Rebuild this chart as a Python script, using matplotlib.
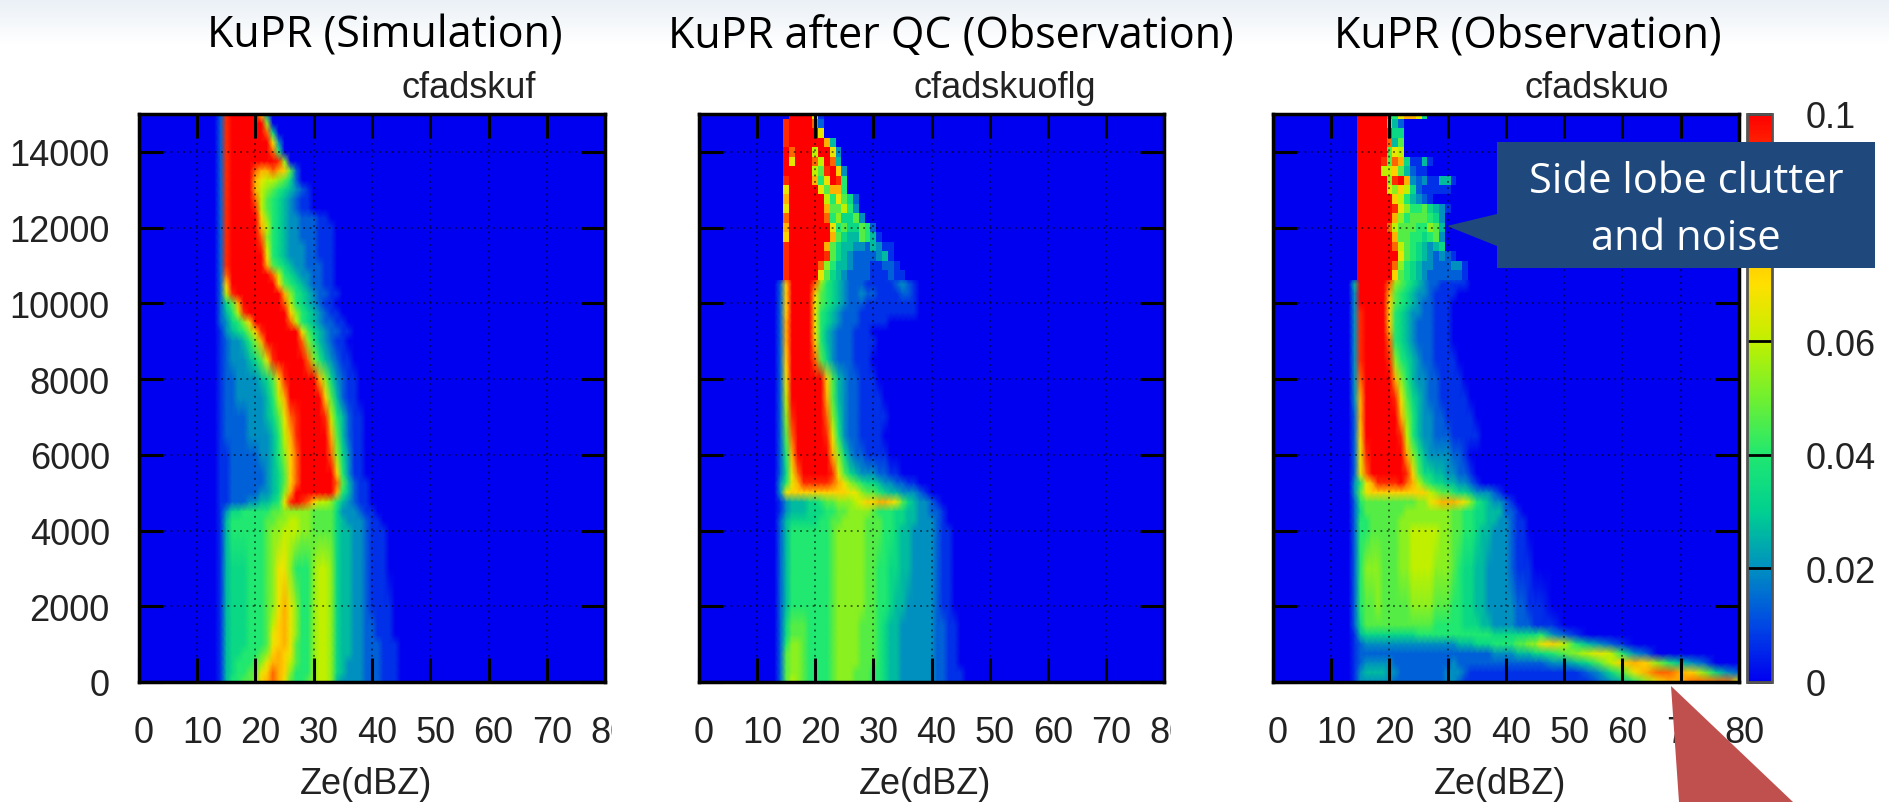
import numpy as np
import matplotlib
matplotlib.use("Agg")
import matplotlib.pyplot as plt
from matplotlib.colors import LinearSegmentedColormap, Normalize
from matplotlib.cm import ScalarMappable
from matplotlib.patches import Polygon, Rectangle
from matplotlib.transforms import ScaledTranslation

# altitude of each row, top to bottom
alt = [15000, 14750, 14500, 14250, 14000, 13750, 13500, 13250, 13000, 12750, 12500, 12250,
       12000, 11750, 11500, 11250, 11000, 10750, 10500, 10250, 10000, 9750, 9500, 9250, 9000,
       8500, 8000, 7500, 7000, 6500, 6000, 5500, 5250, 5000, 4750, 4500, 4250, 4000,
       3000, 2000, 1500, 1250, 1000, 750, 500, 250, 0]

# each digit is one cell, hex level, F = 0.1
# groups: Ze 13-19 | 20-29 | 30-39 | 40-45 | 46-80 every 2 dBZ
cfadskuf = [
    "02EFFFF FB3", "02EFFFF FF8", "02EFFFF FFD5", "02EFFFF FFFA3", "02EFFFF FFFD6",
    "02EFFFF FFFFE8", "02EFFFF DCCDCB72", "02EFFFF CA998752", "02EFFFF C987654321",
    "02EFFFF D976543211", "02EFFFF E976543211", "02EFFFF FB86543322 211",
    "02EFFFF FC96543322 2111", "02EFFFF FD86543322 2111", "02EFFFF FE96543332 2111",
    "02EFFFF FFA6543332 2111", "02EFFFF FFC7654332 2211", "02DFFFF FFFD965433 2211",
    "02BFFFF FFFFB76543 2211", "029EFFF FFFFFC8654 32211", "0257CFF FFFFFD9654 3211",
    "02469EF FFFFFFB865 43211", "023568B FFFFFFD965 432211", "0134568 BEFFFFFFA7 5432211",
    "0123346 8CFFFFFFD8 643211", "0123334 57AEFFFFFD 8643211", "0122333 3457BEFFFF FC853211",
    "0122333 33469CFFFF FFB74211", "0122223 33457ADEFF FFE964211", "0122223 333469CEFF FFFC74211",
    "0112222 233468BDFF FFFD85311", "0112222 223457BDFF FFFFB6311", "0112222 223457BDFF FFFFD74211",
    "0112222 233458CFFF FFFFC64211", "0112223 34456AEFED B998643211",
    "0135566 6667788888 7777533321 1", "0146666 6677889988 7777543332 11",
    "0146666 6678899988 7777544332 111", "0145556 6678AA8666 8998544332 111",
    "0145556 6678ACA866 8998544332 1111", "0145556 6679BCA866 8998544332 2111",
    "0145556 667ABCA866 8998544332 2111", "0145556 667ABCA766 8998544332 22111",
    "0145566 678BCBA766 8998544332 22111", "0145666 78ACCB9766 8998543332 22111",
    "0145667 7ABDCB8666 8998543332 22111", "0146677 8BCDCA7667 8998433332 22111",
]

cfadskuoflg = [
    "000FFFF A1", "00EFFFF D2", "00EFFFF FA", "00EFFFF FFC4", "00FDFFF 9FFA3",
    "00FAFFF D9FD4", "00FFFFF 97EFB3", "00EFFFF C6AFE6", "00AFFFF FA7CC6",
    "00CFFFF FF96A752", "00AFFFF FFC77963", "00DFFFF FFD685573", "00CFFFF FFFA675576 2",
    "00BFFFF FFFC754476 41", "00EFFFF FFC7544332 4311", "00EFFFF FFE7543222 2341",
    "00EFFFF FD86443222 11221", "00EFFFF FA75432222 111211",
    "02BFFFF D865432221 11112321", "02BFFFF B765432232 21111221", "02BFFFF A765432221 11111111",
    "02BFFFF A654322211 11111111", "02CFFFF A654322211 111", "02CFFFF A643222111",
    "02CFFFF B643222111 1", "02BFFFF D753222111", "02AFFFF FFB7432211 1",
    "029FFFF FFC7432211 11", "028EFFF FFD8532211 111", "027DFFF FFEA632211 11",
    "026CFFF FFFC853221 111", "025ADFF FFFEA75433 32211", "036ACEE EEEDCA8765 54332211",
    "03ABBBB BBBBBBAA87 7654433321", "0134445 56778889AB BCCBA75433 21",
    "0134445 5566778888 7666554433 221", "0245555 5667788887 7766554433 321",
    "0246666 6667888887 7766544333 3211", "0246666 6667888887 7665544333 3211",
    "0246666 6667888887 7665443333 3211", "0257776 6667888877 7654433333 32211",
    "0257776 6667888877 7654433333 32211", "0268876 6667888877 7654433333 32211",
    "0278876 6667888877 7654433333 32211", "0278876 6667888877 7654433333 32211",
    "0278876 6667888777 6654433333 322111", "0279876 6667888777 6654433333 322111",
]

cfadskuo = [
    "00FFFFF D6ACCA5", "00FFFFF C42", "00FFFFF E55", "00FFFFF D47", "00FFFFF 7A9",
    "00FFFFE 7DC51141", "00FFFF9 9B74211", "00FFFFF 8EFC323114 41", "00FFFFF A8B9521111 1",
    "00FFFFF FB964321", "00FFFFF FEA8667543 1", "00FFFFF FC86777653", "00FFFFF D977766874",
    "00FFFFF FC77665673", "00FFFFF FD97654345", "00FFFFF FFA7654323 21", "00FFFFF FD86543322 2331",
    "00FFFFF FB76543222 2221", "04FFFFF D876543221 1111", "03FFFFF C765433211 11",
    "03FFFFF B765432211 1", "03EFFFF B654332211 1", "03EFFFF B654322211 1",
    "03EFFFF C654322211 1", "03EFFFF D654322211 1", "03EFFFF E865432211 11",
    "03DFFFF FC86433221 111", "03CFFFF FEA7543221 1111", "02CFFFF FFC8643322 11111",
    "02BFFFF FFE9643322 211111", "02AEFFF FFFC864333 3221", "02ADFFF FFFEB75544 33221",
    "036ACEE EEFDC97655 443321", "037ABBB BBBBBBB987 7655433321", "0267777 7777788ABC CCBA865433 21",
    "0257777 7778888888 8776655444 221", "0266777 7788888888 8776655443 3211",
    "0266777 7788999998 8776654433 3211", "0268887 7788999988 8765544333 32111",
    "0267787 7777888877 7665544333 332211 1", "0257777 7777777766 6665554433 332221 11",
    "0145555 5555566666 6666666655 555555 6321", "0123333 3333333333 3344455566 667788 AB964321",
    "0122222 2222222222 2222222233 334445 56789A9632", "0123333 3222222222 2322222222 222222 2334579BCB86432",
    "0134444 3322222222 3332111111 111111 11112357ACDDCB8532",
    "0133333 3222222222 3321111111 111111 1111123468ACCDDDDA",
]

panel_names = ["cfadskuf", "cfadskuoflg", "cfadskuo"]
panel_titles = ["KuPR (Simulation)", "KuPR after QC (Observation)", "KuPR (Observation)"]
xticks = [0, 10, 20, 30, 40, 50, 60, 70, 80]
yticks = [0, 2000, 4000, 6000, 8000, 10000, 12000, 14000]
cbticks = [0, 0.02, 0.04, 0.06, 0.08, 0.1]
cblabels = ["0", "0.02", "0.04", "0.06", "0.08", "0.1"]

ze = list(range(13, 46)) + list(range(46, 81, 2))
group_len = [7, 10, 10, 6, 18]


def to_grid(rows):
    out = []
    for r in rows:
        parts = r.split(" ")
        parts = parts + [""] * (5 - len(parts))
        s = "".join(p.ljust(n, "0")[:n] for p, n in zip(parts, group_len))
        out.append([int(c, 16) * 0.1 / 15 for c in s])
    return np.array(out)


W, H = 1890, 803
fig = plt.figure(figsize=(W / 100, H / 100), dpi=100, facecolor="white")
plt.rcParams["font.family"] = ["Liberation Sans", "DejaVu Sans"]


def box(x0, y0, x1, y1):
    return [x0 / W, 1 - y1 / H, (x1 - x0) / W, (y1 - y0) / H]


# slide background and all the overlay stuff work in pixels
bg = fig.add_axes([0, 0, 1, 1], zorder=0)
bg.imshow(np.clip(np.linspace(0, 1, H)[:, None] * 18, 0, 1), cmap=LinearSegmentedColormap.from_list("bg", ["#EAF0F6", "#FFFFFF"]),
          aspect="auto", extent=[0, W, H, 0], vmin=0, vmax=1)
bg.axis("off")

cmap = LinearSegmentedColormap.from_list("cfad", [
    (0.0, "#0000F0"), (0.1, "#0048E4"), (0.2, "#0090C0"), (0.3, "#00D090"), (0.4, "#20E870"),
    (0.5, "#70F030"), (0.6, "#C0F000"), (0.7, "#FFE000"), (0.8, "#FFB000"), (0.9, "#FF4000"), (1.0, "#FF0000")])
norm = Normalize(0, 0.1)

grids = [to_grid(cfadskuf), to_grid(cfadskuoflg), to_grid(cfadskuo)]
lefts = [139, 699, 1273]
rights = [605, 1164, 1739]
n_blocky = [0, 18, 18]  # top rows of the observation panels are visibly blocky

for i in range(3):
    ax = fig.add_axes(box(lefts[i], 115, rights[i], 683), zorder=2)
    ax.set_facecolor("#0000F0")
    ax.pcolormesh(ze, alt, grids[i], cmap=cmap, norm=norm, shading="gouraud", rasterized=True)
    if n_blocky[i] > 0:
        n = n_blocky[i]
        ax.pcolormesh(ze[:33], alt[:n], grids[i][:n, :33], cmap=cmap, norm=norm, shading="nearest", rasterized=True)
    ax.set_xlim(0, 80)
    ax.set_ylim(0, 15000)
    ax.set_xticks(xticks)
    ax.set_yticks(yticks)
    ax.tick_params(direction="in", top=True, right=True, length=17, width=2.2, labelsize=26, colors="black",
                   labelcolor="#222222", pad=24)
    ax.tick_params(axis="y", pad=21)
    ax.grid(True, color="black", linestyle=(0, (1, 2.5)), linewidth=1.3, alpha=0.6)
    ax.set_axisbelow(False)
    for s in ax.spines.values():
        s.set_linewidth(2.5)
    if i > 0:
        ax.set_yticklabels([])
    shift = ScaledTranslation(5 / 100, 0, fig.dpi_scale_trans)
    for lab in ax.get_xticklabels():
        lab.set_transform(lab.get_transform() + shift)
    ax.set_xlabel("Ze(dBZ)", fontsize=26, color="#222222", x=0.487, labelpad=11)

# colour bar next to the last panel
cax = fig.add_axes(box(1747, 115, 1772, 683), zorder=2)
cb = fig.colorbar(ScalarMappable(norm=norm, cmap=cmap), cax=cax, ticks=cbticks)
cb.ax.set_yticklabels(cblabels)
cb.ax.tick_params(direction="in", length=18, width=2, labelsize=26, labelcolor="#222222", pad=24)
cb.outline.set_linewidth(2)
cb.outline.set_edgecolor("#555555")

over = fig.add_axes([0, 0, 1, 1], zorder=5)
over.set_xlim(0, W)
over.set_ylim(H, 0)
over.axis("off")

# the image crops the last tick label of the first two panels
over.add_patch(Rectangle((612, 700), 40, 60, color="white", lw=0))
over.add_patch(Rectangle((1171, 700), 40, 60, color="white", lw=0))

title_x = [385, 951, 1528]
for t, x in zip(panel_titles, title_x):
    over.text(x, 36, t, fontsize=31, family="Open Sans", ha="center", va="center", color="black")
name_x = [469, 1005, 1597]
for t, x in zip(panel_names, name_x):
    over.text(x, 89, t, fontsize=26, ha="center", va="center", color="#222222")

# callout
blue = "#1F497D"
over.add_patch(Polygon([(1497, 143), (1875, 143), (1875, 269), (1497, 269), (1497, 247), (1447, 227), (1497, 215)],
                       closed=True, facecolor=blue, edgecolor="none"))
over.text(1686, 182, "Side lobe clutter", fontsize=30, family="Open Sans", color="white", ha="center", va="center")
over.text(1686, 239, "and noise", fontsize=30, family="Open Sans", color="white", ha="center", va="center")

# big red arrow running off the bottom
over.add_patch(Polygon([(1671, 687), (1793, 803), (1679, 803)], closed=True, facecolor="#C0504D", edgecolor="none"))

fig.savefig("out.png", dpi=100)
